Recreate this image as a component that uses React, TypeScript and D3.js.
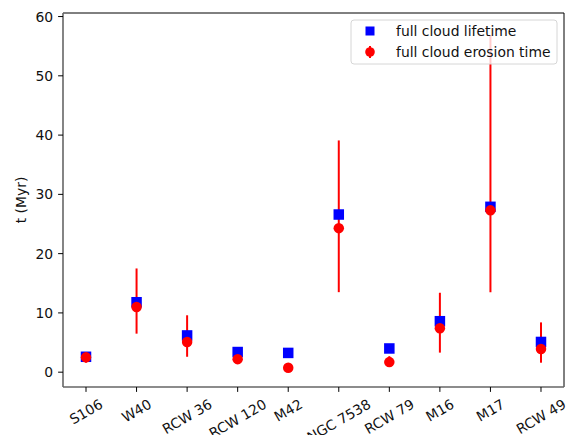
import React, { useEffect, useRef } from "react";
import * as d3 from "d3";

const categories = ["S106", "W40", "RCW 36", "RCW 120", "M42", "NGC 7538", "RCW 79", "M16", "M17", "RCW 49"];
const lifetime = [2.6, 11.8, 6.2, 3.4, 3.25, 26.6, 4.0, 8.6, 27.9, 5.1];
const erosion = [2.5, 11.0, 5.1, 2.2, 0.75, 24.3, 1.7, 7.4, 27.3, 3.9];
const erosionLow = [1.6, 6.5, 2.6, 2.2, 0.75, 13.5, 1.4, 3.3, 13.5, 1.6];
const erosionHigh = [3.0, 17.5, 9.6, 2.2, 0.75, 39.1, 2.7, 13.4, 56.9, 8.4];
const yTicks = [0, 10, 20, 30, 40, 50, 60];
const legendLabels = ["full cloud lifetime", "full cloud erosion time"];

const W = 567, H = 435;
const L = 63, R = 564, T = 13, B = 387;
const FONT = "DejaVu Sans, sans-serif";
const FS = 13.9;
const TL = 4.9;

export default function App() {
  const ref = useRef<SVGSVGElement>(null);
  useEffect(() => {
    const svg = d3.select(ref.current);
    svg.selectAll("*").remove();
    const x = d3.scaleLinear().domain([-0.455, 9.455]).range([L, R]);
    const y = d3.scaleLinear().domain([-2.5, 60.6]).range([B, T]);

    svg.append("rect").attr("width", W).attr("height", H).attr("fill", "white");

    const g = svg.append("g");
    categories.forEach((c, i) => {
      if (erosionHigh[i] - erosionLow[i] > 0.01) {
        g.append("line").attr("x1", x(i)).attr("x2", x(i))
          .attr("y1", y(erosionLow[i])).attr("y2", y(erosionHigh[i]))
          .attr("stroke", "red").attr("stroke-width", 2);
      }
    });
    const s = 10.5;
    categories.forEach((c, i) => {
      g.append("rect").attr("x", x(i) - s / 2).attr("y", y(lifetime[i]) - s / 2)
        .attr("width", s).attr("height", s).attr("fill", "blue");
    });
    categories.forEach((c, i) => {
      g.append("circle").attr("cx", x(i)).attr("cy", y(erosion[i])).attr("r", s / 2).attr("fill", "red");
    });

    // spines
    svg.append("line").attr("x1", L).attr("x2", R).attr("y1", T).attr("y2", T).attr("stroke", "black").attr("stroke-width", 1);
    svg.append("line").attr("x1", R).attr("x2", R).attr("y1", T).attr("y2", B).attr("stroke", "black").attr("stroke-width", 1);
    svg.append("line").attr("x1", L).attr("x2", L).attr("y1", T).attr("y2", B).attr("stroke", "#666").attr("stroke-width", 1.6);
    svg.append("line").attr("x1", L).attr("x2", R).attr("y1", B).attr("y2", B).attr("stroke", "#666").attr("stroke-width", 1.6);

    yTicks.forEach(v => {
      svg.append("line").attr("x1", L - TL).attr("x2", L).attr("y1", y(v)).attr("y2", y(v)).attr("stroke", "black").attr("stroke-width", 1);
      svg.append("text").attr("x", L - 2 * TL).attr("y", y(v)).attr("dy", "0.36em")
        .attr("text-anchor", "end").attr("font-family", FONT).attr("font-size", FS).attr("fill", "#111").text(String(v));
    });
    categories.forEach((c, i) => {
      svg.append("line").attr("x1", x(i)).attr("x2", x(i)).attr("y1", B).attr("y2", B + TL).attr("stroke", "black").attr("stroke-width", 1);
      const t = svg.append("text").attr("font-family", FONT).attr("font-size", FS).attr("fill", "#111")
        .attr("text-anchor", "middle").attr("dy", "0.36em").text(c);
      const w = (t.node() as SVGTextElement).getComputedTextLength();
      const h = FS * 1.0;
      const top = B + 2 * TL;
      const cy = top + (w / 2) * 0.5 + (h / 2) * 0.866;
      const cx = x(i);
      t.attr("x", cx).attr("y", cy).attr("transform", `rotate(-30 ${cx} ${cy})`);
    });

    svg.append("text").attr("transform", `translate(26,${(T + B) / 2}) rotate(-90)`)
      .attr("text-anchor", "middle").attr("font-family", FONT).attr("font-size", FS).attr("fill", "#111").text("t (Myr)");

    const lg = svg.append("g");
    lg.append("rect").attr("x", 351).attr("y", 20).attr("width", 206).attr("height", 44).attr("rx", 3)
      .attr("fill", "white").attr("fill-opacity", 0.8).attr("stroke", "#d6d6d6").attr("stroke-width", 1);
    lg.append("rect").attr("x", 370 - 4.5).attr("y", 31 - 4.5).attr("width", 9).attr("height", 9).attr("fill", "blue");
    lg.append("line").attr("x1", 370).attr("x2", 370).attr("y1", 46).attr("y2", 58).attr("stroke", "red").attr("stroke-width", 2);
    lg.append("circle").attr("cx", 370).attr("cy", 52).attr("r", 4.8).attr("fill", "red");
    legendLabels.forEach((l, i) => {
      lg.append("text").attr("x", 396).attr("y", 31 + i * 21).attr("dy", "0.36em")
        .attr("font-family", FONT).attr("font-size", FS).attr("fill", "#111").text(l);
    });
  }, []);
  return <svg ref={ref} width={W} height={H} style={{ display: "block", position: "absolute", left: 0, top: 0 }} />;
}
